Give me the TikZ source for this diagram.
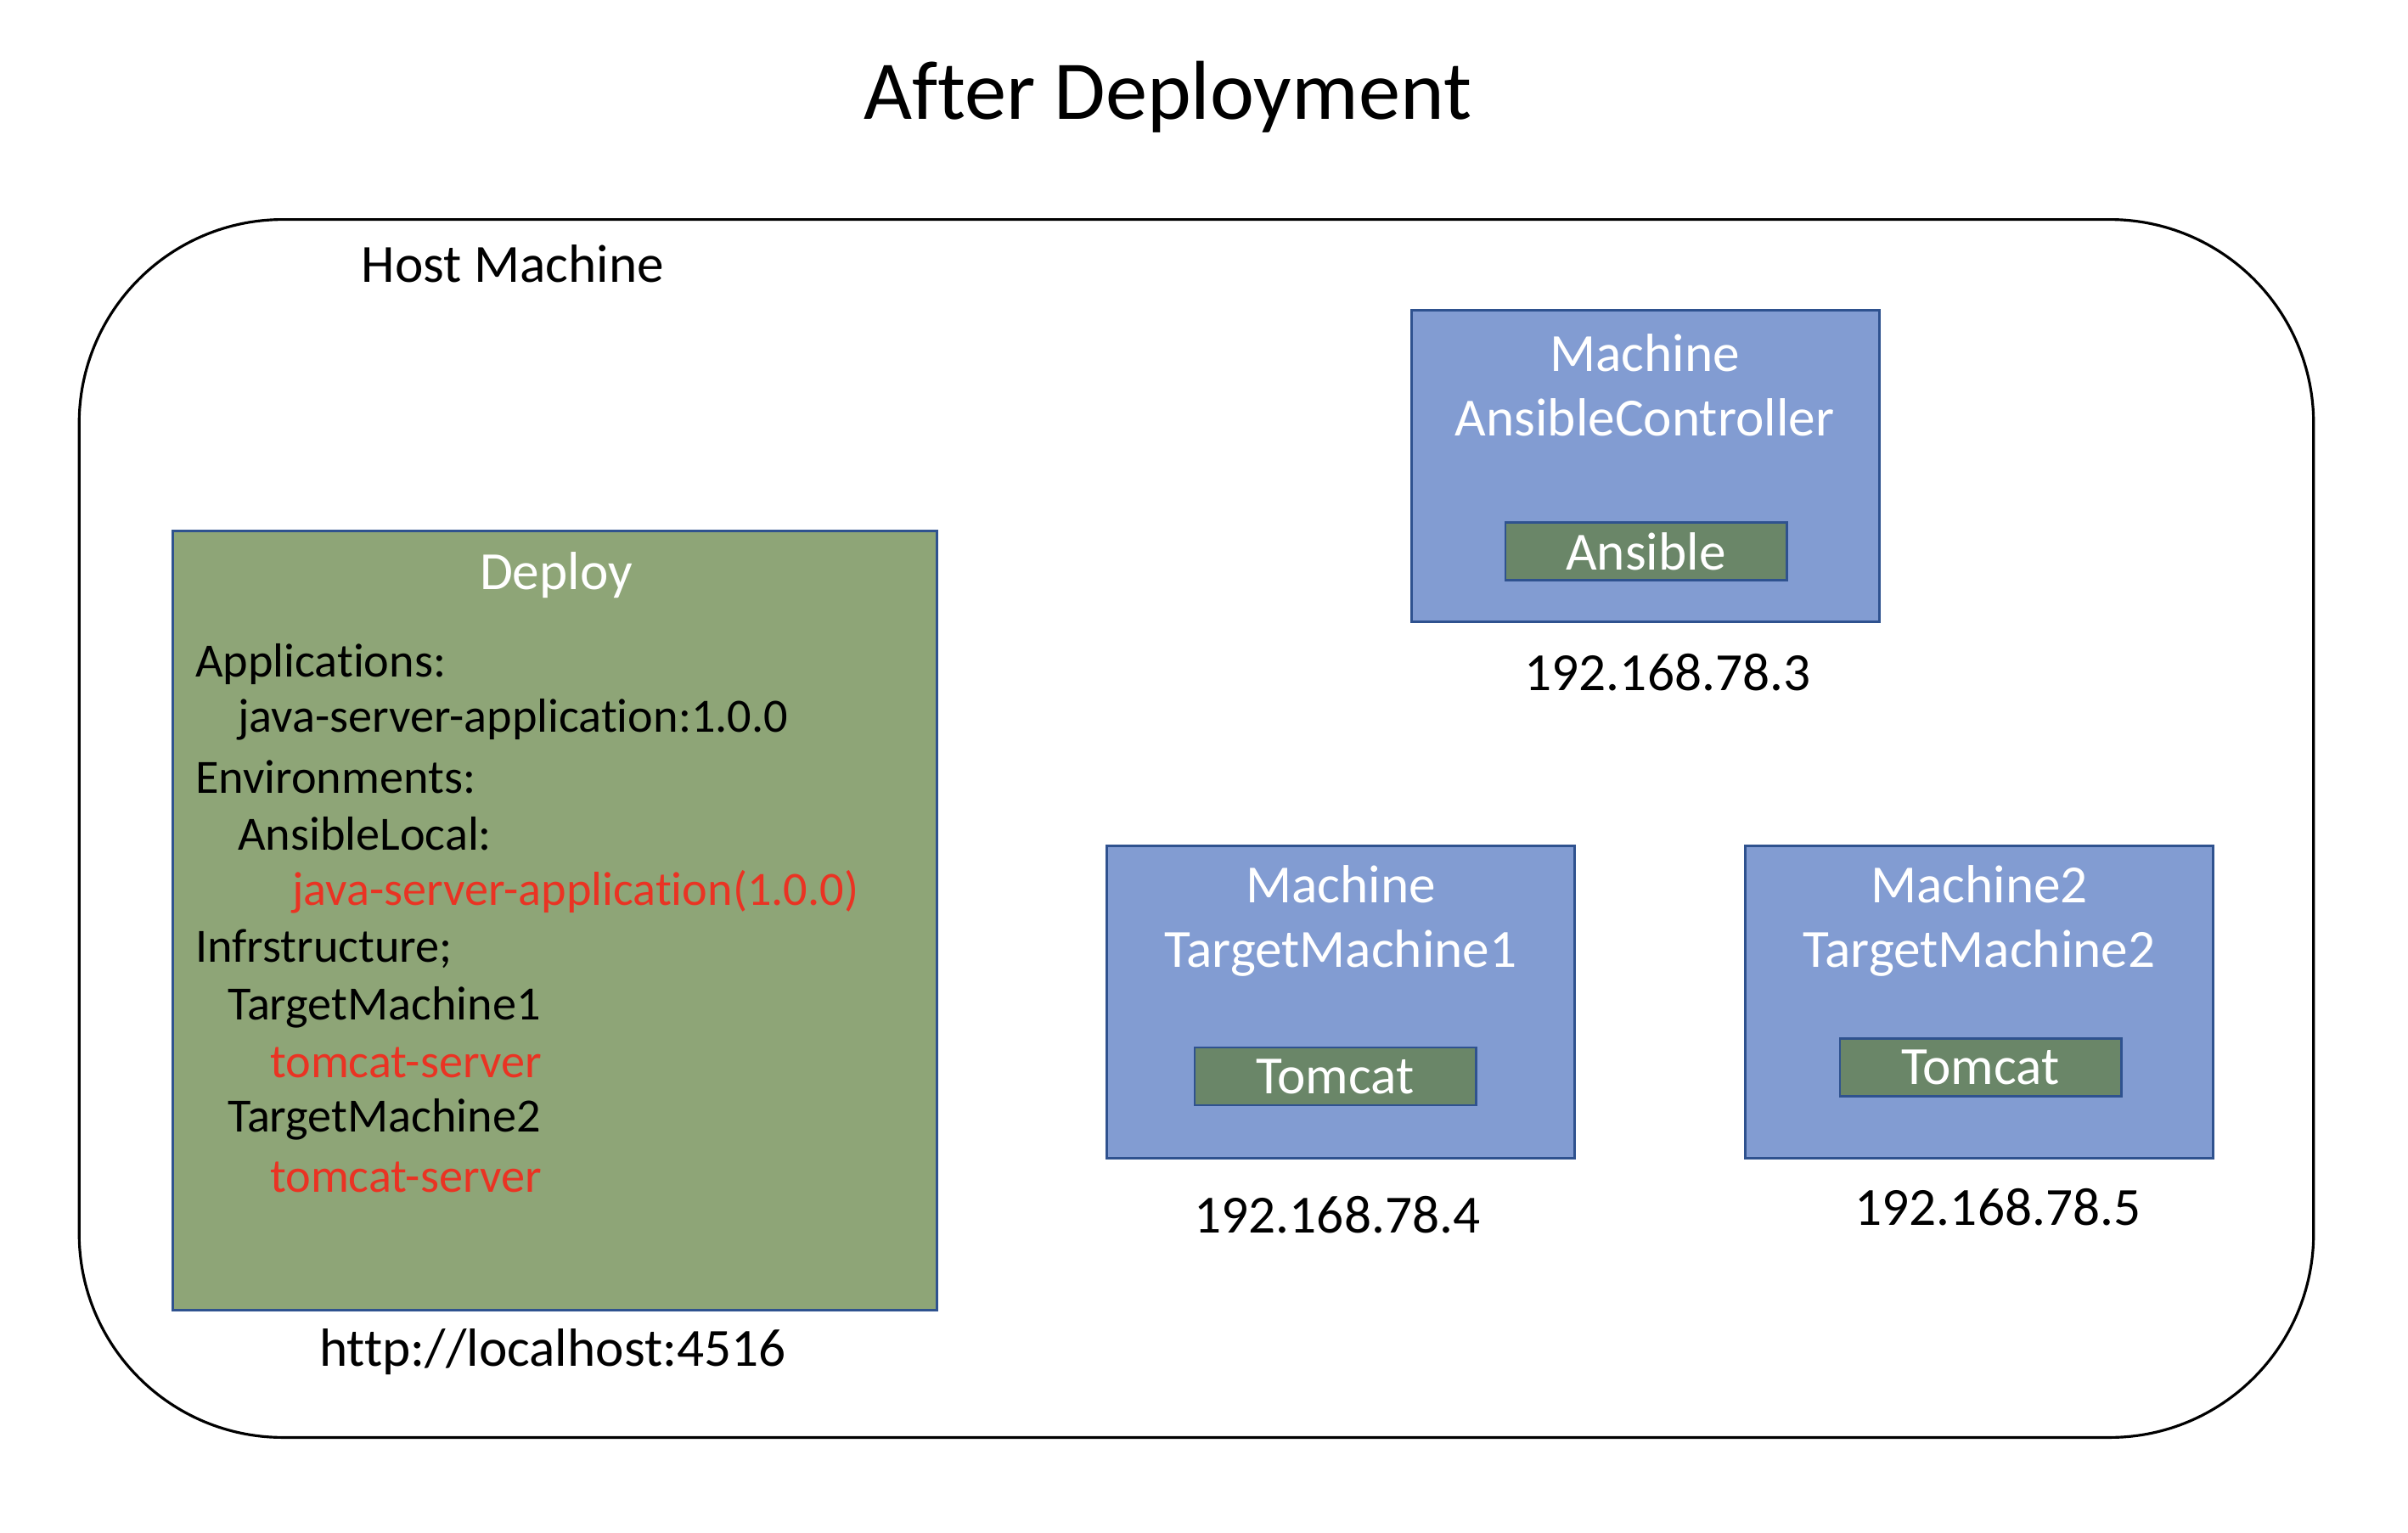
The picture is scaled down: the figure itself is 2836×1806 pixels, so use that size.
\documentclass[tikz,border=0pt]{standalone}
\usepackage{fontspec}
\setmainfont[Ligatures=NoCommon]{Carlito}
\definecolor{boxblue}{RGB}{130,156,210}
\definecolor{edgeblue}{RGB}{47,82,143}
\definecolor{deploygreen}{RGB}{142,165,119}
\definecolor{appgreen}{RGB}{106,134,104}
\definecolor{cfgred}{RGB}{234,51,35}
\begin{document}
\begin{tikzpicture}[x=0.01cm,y=-0.01cm,
    every node/.style={inner sep=0pt,outer sep=0pt},
    hostbox/.style={draw=black,line width=0.9pt,rounded corners=2.4cm,minimum width=26.30cm,minimum height=14.34cm},
    machine/.style={draw=edgeblue,fill=boxblue,line width=0.8pt,minimum width=5.51cm,minimum height=3.67cm},
    appbox/.style={draw=edgeblue,fill=appgreen,line width=0.8pt,minimum width=3.31cm,minimum height=0.68cm,text=white,font=\fontsize{18}{21.6}\selectfont},
    deploybox/.style={draw=edgeblue,fill=deploygreen,line width=0.8pt,minimum width=8.99cm,minimum height=9.17cm},
    whitetxt/.style={text=white,align=center,font=\fontsize{18}{21.6}\selectfont},
    plain/.style={font=\fontsize{18}{21.6}\selectfont},
    cfg/.style={anchor=west,font=\fontsize{16}{19.2}\selectfont},
    red/.style={cfg,text=cfgred}]
    \useasboundingbox (0,0) rectangle (2836,1806);

    \node[font=\fontsize{28}{33.6}\selectfont] (title) at (1375,114) {After Deployment};
    \node[hostbox] (host) at (1409,976) {};
    \node[plain] (hostlbl) at (604,311) {Host Machine};

    % deploy server
    \node[deploybox] (deploy) at (653.5,1084.5) {};
    \node[whitetxt] (deploylbl) at (655,678) {Deploy};
    \node[cfg] (apps) at (230,782) {Applications:};
    \node[cfg] (app) at (280,848) {java-server-application:1.0.0};
    \node[cfg] (envs) at (230,915) {Environments:};
    \node[cfg] (env) at (280,982) {AnsibleLocal:};
    \node[red] (envapp) at (344,1051) {java-server-application(1.0.0)};
    \node[cfg] (infra) at (230,1118) {Infrstructure;};
    \node[cfg] (tm1) at (268,1187) {TargetMachine1};
    \node[red] (tm1app) at (318,1252) {tomcat-server};
    \node[cfg] (tm2) at (268,1319) {TargetMachine2};
    \node[red] (tm2app) at (318,1387) {tomcat-server};
    \node[plain] (url) at (651,1593) {http://localhost:4516};

    % machines
    \node[machine] (ctrl) at (1938,549) {};
    \node[whitetxt] (ctrllbl) at (1937,454) {Machine\\AnsibleController};
    \node[appbox] (ansible) at (1938.5,649.5) {Ansible};
    \node[plain] (ctrlip) at (1964,792) {192.168.78.3};

    \node[machine] (target1) at (1579,1180.5) {};
    \node[whitetxt] (target1lbl) at (1579,1085) {Machine\\TargetMachine1};
    \node[appbox] (tomcat1) at (1572.5,1268) {Tomcat};
    \node[plain] (target1ip) at (1575,1431) {192.168.78.4};

    \node[machine] (target2) at (2331,1180.5) {};
    \node[whitetxt] (target2lbl) at (2331,1085) {Machine2\\TargetMachine2};
    \node[appbox] (tomcat2) at (2332.5,1257.5) {Tomcat};
    \node[plain] (target2ip) at (2353,1422) {192.168.78.5};
\end{tikzpicture}
\end{document}
